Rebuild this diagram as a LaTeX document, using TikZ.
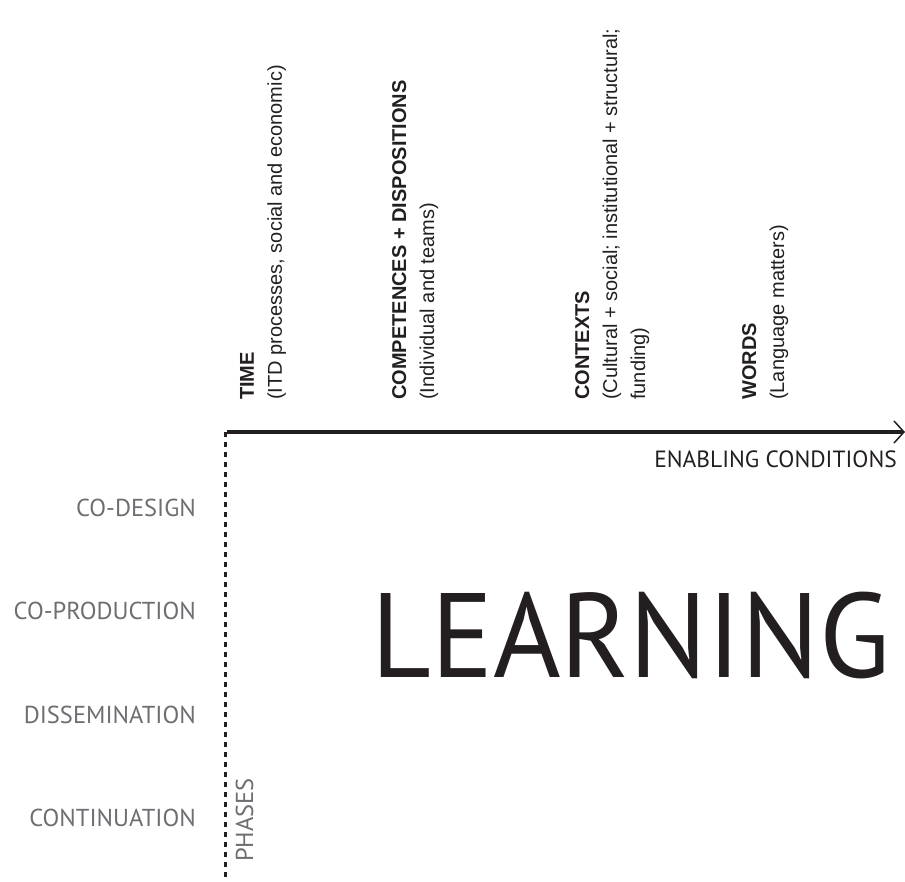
\documentclass[tikz,border=0pt]{standalone}
\usepackage{fontspec}
\setmainfont{Liberation Sans}
\newfontfamily\phasefont{PT Sans}
\usetikzlibrary{arrows.meta}
\usepackage{xcolor}
\definecolor{inkblack}{HTML}{231F20}
\definecolor{phasegray}{HTML}{6D6E71}
\tikzset{
  condition/.style={rotate=90, anchor=north west, align=left, inner sep=0pt, font=\fontsize{20}{28}\selectfont, text=inkblack},
  phase/.style={anchor=base east, inner sep=0pt, font=\phasefont\fontsize{24.5}{24.5}\selectfont, text=phasegray},
}

\begin{document}
\begin{tikzpicture}[x=1pt,y=-1pt]
\useasboundingbox (0,0) rectangle (905,882);
\coordinate (O) at (225,432);
\coordinate (S) at (227,432);
\coordinate (E) at (905,432);
\coordinate (B) at (225,882);

% axes
\draw[inkblack, line width=3pt, dash pattern=on 4.5pt off 5.5pt] (O) -- (B);
\draw[inkblack, line width=3.6pt, -{Straight Barb[length=10pt,width=22pt,line width=1.5pt]}] (S) -- (E);

% enabling conditions
\node[condition] (time) at (240,400) {\textbf{TIME}\\(ITD processes, social and economic)};
\node[condition] (competences) at (392,400) {\textbf{COMPETENCES + DISPOSITIONS}\\(Individual and teams)};
\node[condition] (contexts) at (575,400) {\textbf{CONTEXTS}\\(Cultural + social; institutional + structural;\\funding)};
\node[condition] (words) at (742,400) {\textbf{WORDS}\\(Language matters)};
\node[anchor=base east, inner sep=0pt, font=\phasefont\fontsize{23.5}{23.5}\selectfont, text=inkblack] (enabling) at (897,467) {ENABLING CONDITIONS};

% phases
\node[phase] (codesign) at (196,516) {CO-DESIGN};
\node[phase] (coproduction) at (196,619) {CO-PRODUCTION};
\node[phase] (dissemination) at (196,723) {DISSEMINATION};
\node[phase] (continuation) at (196,826) {CONTINUATION};
\node[phase, rotate=90, anchor=base west] (phases) at (253,862) {PHASES};

\node[anchor=base west, inner sep=0pt, xscale=0.965, font=\phasefont\fontsize{120}{120}\selectfont, text=inkblack] (learning) at (371,677) {LEARNING};
\end{tikzpicture}
\end{document}
